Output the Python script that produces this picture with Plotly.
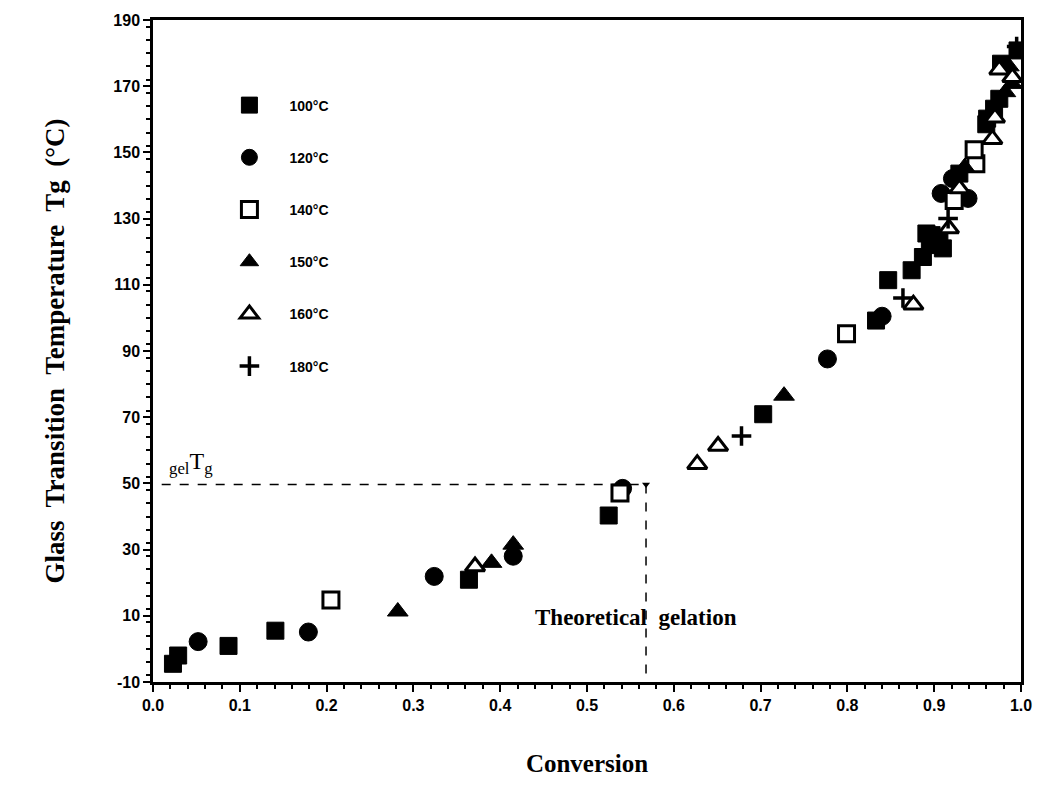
import plotly.graph_objects as go

# ---- data ----
x_100 = [0.023, 0.029, 0.087, 0.141, 0.364, 0.525, 0.703, 0.833, 0.847, 0.874, 0.887,
         0.891, 0.895, 0.897, 0.906, 0.910, 0.929, 0.960, 0.961, 0.969, 0.975, 0.977, 0.996]
y_100 = [-4.5, -2.0, 0.9, 5.5, 20.9, 40.3, 70.9, 99.2, 111.4, 114.4, 118.4,
         125.5, 122.0, 125.0, 123.0, 121.0, 143.6, 158.5, 160.2, 163.2, 166.2, 176.8, 180.8]

x_120 = [0.052, 0.179, 0.324, 0.415, 0.541, 0.777, 0.840, 0.908, 0.921, 0.939]
y_120 = [2.2, 5.1, 21.9, 28.0, 48.5, 87.6, 100.5, 137.6, 142.1, 136.1]

x_140 = [0.205, 0.538, 0.799, 0.923, 0.948, 0.946]
y_140 = [14.8, 47.1, 95.2, 135.5, 146.6, 150.8]

x_150 = [0.282, 0.390, 0.415, 0.727, 0.935, 0.982, 0.990, 0.986]
y_150 = [11.3, 26.0, 31.5, 76.5, 145.5, 168.2, 170.7, 176.0]

x_160 = [0.371, 0.627, 0.651, 0.876, 0.917, 0.929, 0.967, 0.970, 0.975, 0.990]
y_160 = [24.9, 55.8, 61.3, 104.0, 127.0, 139.1, 154.0, 160.5, 175.0, 172.7]

x_180 = [0.678, 0.864, 0.916, 0.995]
y_180 = [64.3, 106.0, 130.0, 182.0]

gel_conversion = 0.568
gel_tg = 49.7

x_range = [0.0, 1.0]
y_range = [-10, 190]
x_ticks = [0.0, 0.1, 0.2, 0.3, 0.4, 0.5, 0.6, 0.7, 0.8, 0.9, 1.0]
x_ticklabels = ["0.0", "0.1", "0.2", "0.3", "0.4", "0.5", "0.6", "0.7", "0.8", "0.9", "1.0"]
y_ticks = [-10, 10, 30, 50, 70, 90, 110, 130, 150, 170, 190]
y_ticklabels = ["-10", "10", "30", "50", "70", "90", "110", "130", "150", "170", "190"]

series = [
    ("100°C", x_100, y_100, dict(symbol="square", size=17, color="black",
                                  line=dict(color="black", width=1))),
    ("120°C", x_120, y_120, dict(symbol="circle", size=18, color="black",
                                  line=dict(color="black", width=1))),
    ("140°C", x_140, y_140, dict(symbol="square", size=16, color="white",
                                  line=dict(color="black", width=3))),
    ("150°C", x_150, y_150, dict(symbol="triangle-up", size=18, color="black",
                                  line=dict(color="black", width=1))),
    ("160°C", x_160, y_160, dict(symbol="triangle-up", size=17, color="white",
                                  line=dict(color="black", width=3))),
    ("180°C", x_180, y_180, dict(symbol="cross-thin", size=14, color="black",
                                  line=dict(color="black", width=3.5))),
]

fig = go.Figure()

# dashed gelation guide lines
fig.add_trace(go.Scatter(x=[0.01, gel_conversion], y=[gel_tg, gel_tg], mode="lines",
                         line=dict(color="black", width=1.5, dash="dash"),
                         showlegend=False, hoverinfo="skip"))
fig.add_trace(go.Scatter(x=[gel_conversion, gel_conversion], y=[gel_tg, y_range[0]], mode="lines",
                         line=dict(color="black", width=1.5, dash="dash"),
                         showlegend=False, hoverinfo="skip"))
fig.add_trace(go.Scatter(x=[gel_conversion], y=[gel_tg], mode="markers",
                         marker=dict(symbol="triangle-down", size=7, color="black"),
                         showlegend=False, hoverinfo="skip"))

for i, (name, xs, ys, mk) in enumerate(series):
    fig.add_trace(go.Scatter(x=xs, y=ys, mode="markers", name=name, marker=mk,
                             legendgroup=f"g{i}"))

fig.add_annotation(x=0.016, y=51.0, xref="x", yref="y", xanchor="left", yanchor="bottom",
                   text="<sub>gel</sub>T<sub>g</sub>", showarrow=False,
                   font=dict(family="Liberation Serif", size=24, color="black"))
fig.add_annotation(x=0.557, y=9.5, xref="x", yref="y", xanchor="center", yanchor="middle",
                   text="Theoretical  gelation", showarrow=False,
                   font=dict(family="Liberation Serif", size=23, color="black", weight="bold"))

axis_common = dict(
    showgrid=False, zeroline=False, showline=True, linecolor="black", linewidth=2.5,
    mirror=True, ticks="outside", tickcolor="black", tickwidth=2, ticklen=7,
    tickfont=dict(family="Liberation Sans", size=16, color="black", weight="bold"),
)

fig.update_xaxes(range=x_range, tickvals=x_ticks, ticktext=x_ticklabels,
                 minor=dict(dtick=0.02, ticks="outside", ticklen=4, tickwidth=1.5,
                            tickcolor="black"),
                 title=dict(text="Conversion", standoff=42,
                            font=dict(family="Liberation Serif", size=25, color="black",
                                      weight="bold")),
                 **axis_common)
fig.update_yaxes(range=y_range, tickvals=y_ticks, ticktext=y_ticklabels,
                 minor=dict(dtick=4, ticks="outside", ticklen=4, tickwidth=1.5,
                            tickcolor="black"),
                 title=dict(text="Glass  Transition  Temperature  Tg  (°C)", standoff=41,
                            font=dict(family="Liberation Serif", size=27, color="black",
                                      weight="bold")),
                 **axis_common)

fig.update_layout(
    width=1044, height=803,
    margin=dict(l=153, r=17, t=20, b=121),
    paper_bgcolor="white", plot_bgcolor="white",
    showlegend=True,
    legend=dict(x=0.065, y=0.895, xanchor="left", yanchor="top",
                bgcolor="rgba(0,0,0,0)", tracegroupgap=31, itemwidth=70,
                font=dict(family="Liberation Sans", size=14, color="black", weight="bold")),
)

fig.write_html("out.html")
